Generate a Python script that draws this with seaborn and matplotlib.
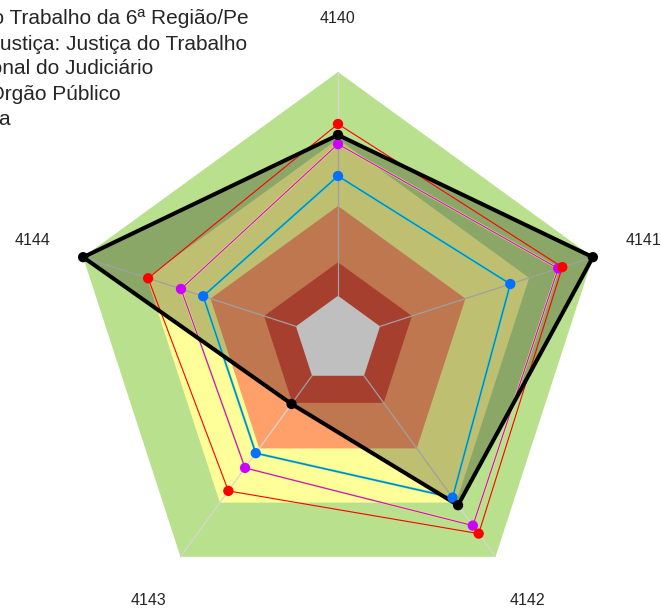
import numpy as np
import pandas as pd
import matplotlib
matplotlib.use('Agg')
import matplotlib.pyplot as plt
import seaborn as sns

# eixos do radar (sentido horário a partir do topo)
indicadores = ['4140', '4141', '4142', '4143', '4144']

# valores normalizados (0 = centro, 1 = borda)
tribunal = [0.765, 1.0, 0.762, 0.295, 1.0]
segmento = [0.806, 0.880, 0.893, 0.696, 0.745]
nacional = [0.731, 0.864, 0.856, 0.590, 0.616]
porte = [0.612, 0.676, 0.727, 0.522, 0.529]

# faixas de fundo
faixas = [1.0, 0.75, 0.5, 0.29, 0.165]
cores_faixas = ['#b9e08c', '#ffff99', '#ffa06b', '#e0553f', '#ffffff']

legenda = [
    'Tribunal Regional do Trabalho da 6ª Região/Pe',
    'Segmento de Justiça: Justiça do Trabalho',
    'Média Nacional do Judiciário',
    'Média do Porte do Órgão Público',
    'Meta',
]

sns.set_style('white')
plt.rcParams['font.family'] = ['Liberation Sans', 'DejaVu Sans']

W, H = 661, 612
fig = plt.figure(figsize=(W / 100, H / 100), dpi=100)
cx, cy, R = 338, 340, 268
ax = fig.add_axes([(cx - R) / W, (H - cy - R) / H, 2 * R / W, 2 * R / H], projection='polar')
ax.set_theta_zero_location('N')
ax.set_theta_direction(-1)
ax.set_axis_off()
ax.set_ylim(0, 1)

n = len(indicadores)
theta = np.linspace(0, 2 * np.pi, n, endpoint=False)
theta_c = np.append(theta, theta[0])


def fechar(v):
    return np.append(v, v[0])


for r, c in zip(faixas, cores_faixas):
    ax.fill(theta_c, [r] * (n + 1), color=c, lw=0, zorder=1)

# raios
for t in theta:
    ax.plot([t, t], [faixas[-1], 1.0], color='#d6d6d6', lw=0.9, zorder=2, clip_on=False)

# área do tribunal
ax.fill(theta_c, fechar(tribunal), color='black', alpha=0.25, lw=0, zorder=3)

ax.plot(theta_c, fechar(porte), color='#33dd88', lw=1.6, zorder=4, clip_on=False)
ax.plot(theta_c, fechar(porte), color='#0070ff', lw=0.8, zorder=5, clip_on=False)
ax.plot(theta_c, fechar(nacional), color='#e6ee44', lw=1.6, zorder=4, clip_on=False)
ax.plot(theta_c, fechar(nacional), color='#cc00ff', lw=0.8, zorder=5, clip_on=False)
ax.plot(theta_c, fechar(segmento), color='#ff0000', lw=0.8, zorder=5, clip_on=False)
ax.plot(theta_c, fechar(tribunal), color='black', lw=2.9, zorder=6, clip_on=False)

pts = pd.DataFrame({
    'theta': np.tile(theta, 4),
    'valor': porte + nacional + segmento + tribunal,
    'serie': ['porte'] * n + ['nacional'] * n + ['segmento'] * n + ['tribunal'] * n,
})
sns.scatterplot(data=pts, x='theta', y='valor', hue='serie',
                palette={'porte': '#0070ff', 'nacional': '#cc00ff',
                         'segmento': '#ff0000', 'tribunal': 'black'},
                s=55, linewidth=0, legend=False, ax=ax, zorder=7, clip_on=False)
ax.set_ylim(0, 1)

for t, lab in zip(theta, indicadores):
    ax.text(t, 1.2, lab, ha='center', va='center', fontsize=11.5, clip_on=False)

# legenda (cortada à esquerda como no original)
direita = [249, 247, 153, 121, 11]
base = [24, 49.5, 74.5, 100, 125]
for txt, xr, yb in zip(legenda, direita, base):
    fig.text(xr / W, 1 - yb / H, txt, ha='right', va='baseline', fontsize=15)

fig.savefig('out.png', dpi=100)
